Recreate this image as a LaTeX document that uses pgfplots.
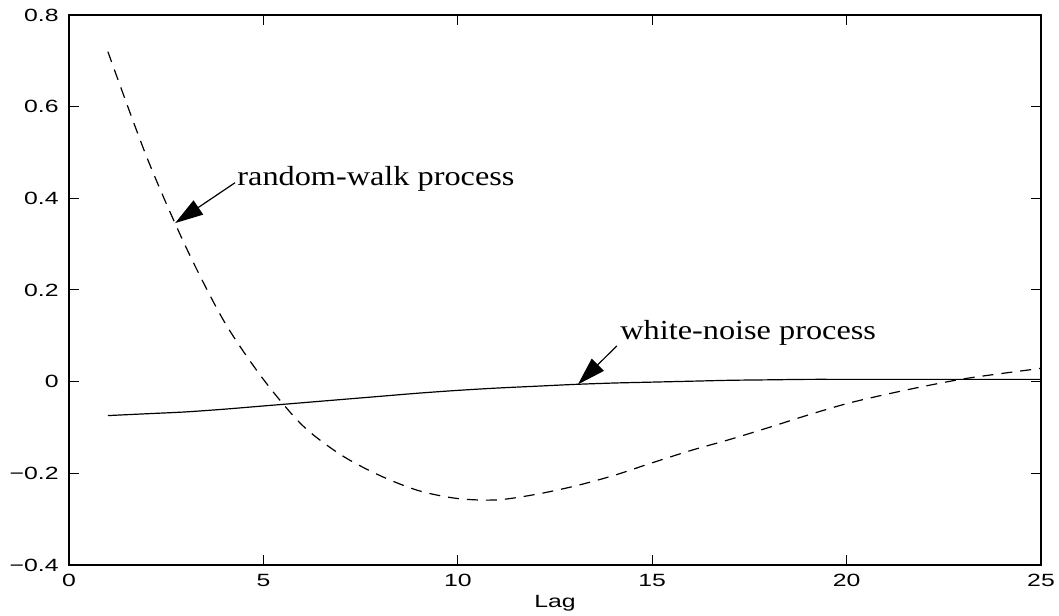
\documentclass[border=0pt]{standalone}
\usepackage{fontspec}
\setmainfont{Liberation Sans}
\newfontfamily\tms{Liberation Serif}
\usepackage{pgfplots}
\pgfplotsset{compat=1.18}
\usetikzlibrary{arrows.meta}

\begin{document}
\begin{tikzpicture}
\begin{axis}[
    name=ax,
    scale only axis,
    width=486bp, height=275bp,
    xmin=0, xmax=25, ymin=-0.4, ymax=0.8,
    xtick={0,5,10,15,20,25},
    xticklabels={0,5,10,15,20,25},
    ytick={-0.4,-0.2,0,0.2,0.4,0.6,0.8},
    yticklabels={−0.4,−0.2,0,0.2,0.4,0.6,0.8},
    tick align=inside,
    major tick length=5bp,
    axis line style={line width=0.8bp},
    tick style={line width=0.5bp, black},
    ticklabel style={font=\fontsize{8.85bp}{10bp}\selectfont, xscale=1.4, inner sep=0pt},
    xticklabel style={anchor=north, yshift=-4.5bp},
    yticklabel style={anchor=east, xshift=-3.5bp},
    xlabel={Lag},
    xlabel style={at={(axis description cs:0.5,0)}, anchor=base, yshift=-21bp,
        font=\fontsize{8.85bp}{10bp}\selectfont, xscale=1.4, inner sep=0pt},
]
% white-noise process
\addplot[black, line width=0.6bp, smooth] coordinates {
    (1,-0.074) (2,-0.070) (3,-0.066) (4,-0.060) (5,-0.053) (6,-0.046)
    (7,-0.039) (8,-0.032) (9,-0.025) (10,-0.019) (11,-0.014) (12,-0.010)
    (13,-0.006) (14,-0.003) (15,-0.001) (16,0.001) (17,0.003) (18,0.004)
    (19,0.005) (20,0.005) (21,0.005) (22,0.005) (23,0.005) (24,0.005) (25,0.005)
};
% random-walk process
\addplot[black, line width=0.6bp, smooth, dash pattern=on 5.5bp off 4bp] coordinates {
    (1,0.72) (2,0.49) (3,0.295) (4,0.13) (5,0.005) (6,-0.095) (7,-0.16)
    (8,-0.205) (9,-0.238) (10,-0.255) (11,-0.258) (12,-0.246) (13,-0.228)
    (14,-0.205) (15,-0.177) (16,-0.150) (17,-0.126) (18,-0.100) (19,-0.073)
    (20,-0.048) (21,-0.028) (22,-0.010) (23,0.006) (24,0.018) (25,0.029)
};
% annotations
\draw[line width=0.6bp, -{Triangle[length=14bp,width=8.5bp]}]
    (axis cs:4.27,0.434) -- (axis cs:2.73,0.346);
\node[anchor=base west, inner sep=0pt, font=\tms\fontsize{13.8bp}{16bp}\selectfont, xscale=1.17]
    at (axis cs:4.32,0.429) {random-walk process};
\draw[line width=0.6bp, -{Triangle[length=14bp,width=8.5bp]}]
    (axis cs:14.09,0.078) -- (axis cs:13.09,-0.006);
\node[anchor=base west, inner sep=0pt, font=\tms\fontsize{13.8bp}{16bp}\selectfont, xscale=1.17]
    at (axis cs:14.17,0.091) {white-noise process};
\end{axis}
\pgfresetboundingbox
\path ([shift={(-34.5bp,-25.5bp)}]ax.south west) rectangle ([shift={(9bp,7.5bp)}]ax.north east);
\end{tikzpicture}
\end{document}
